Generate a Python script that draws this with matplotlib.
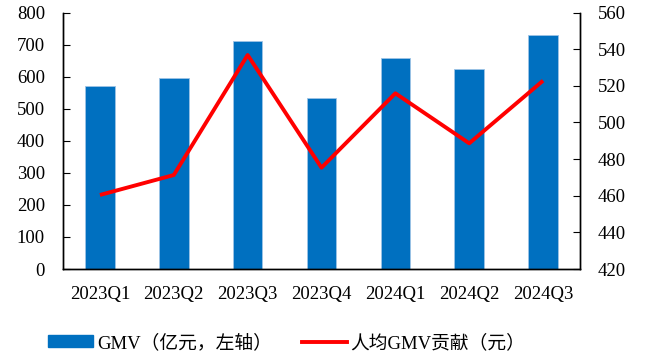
import matplotlib
matplotlib.use("Agg")
import matplotlib.pyplot as plt
from matplotlib.lines import Line2D
from matplotlib.patches import Patch

plt.rcParams['font.family'] = ['Liberation Serif', 'Noto Sans CJK SC']

quarters = ['2023Q1', '2023Q2', '2023Q3', '2023Q4', '2024Q1', '2024Q2', '2024Q3']
gmv = [571, 596, 711, 533, 657, 623, 729]            # 亿元
gmv_per_user = [460.4, 471.3, 536.8, 475.3, 515.9, 488.6, 522.8]  # 元

fig = plt.figure(figsize=(6.46, 3.58), dpi=100)
ax = fig.add_axes([63 / 646, 1 - 269 / 358, (580 - 63) / 646, (269 - 12.5) / 358])
ax2 = ax.twinx()

x = range(len(quarters))
ax.bar(x, gmv, width=0.4, color='#0070C0', edgecolor='#9DC3E6', linewidth=0.6, zorder=2)
ax2.plot(x, gmv_per_user, color='#FF0000', linewidth=2.8, solid_capstyle='butt', zorder=3)

ax.set_xlim(-0.5, len(quarters) - 0.5)
ax.set_ylim(0, 800)
ax.set_yticks(range(0, 801, 100))
ax2.set_ylim(420, 560)
ax2.set_yticks(range(420, 561, 20))

fs = 13.5
ax.set_xticks(list(x))
ax.set_xticklabels(quarters)
ax.tick_params(axis='x', length=0, pad=12, labelsize=fs)
ax.tick_params(axis='y', direction='in', length=5, labelsize=fs, pad=13)
ax2.tick_params(axis='y', direction='in', length=5, labelsize=fs, pad=13)

for a in (ax, ax2):
    a.spines['top'].set_visible(False)
    for s in ('left', 'right', 'bottom'):
        a.spines[s].set_linewidth(1.0)
        a.spines[s].set_color('black')

handles = [
    Patch(facecolor='#0070C0', edgecolor='#0070C0'),
    Line2D([0], [0], color='#FF0000', linewidth=2.8),
]
labels = ['GMV（亿元，左轴）', '人均GMV贡献（元）']
fig.legend(handles, labels, loc='center left', bbox_to_anchor=(48 / 646, 1 - 343 / 358),
           ncol=2, frameon=False, fontsize=fs, handlelength=2.4, handleheight=0.6,
           columnspacing=1.6, handletextpad=0.2, borderaxespad=0, borderpad=0)

fig.savefig('out.png', dpi=100)
